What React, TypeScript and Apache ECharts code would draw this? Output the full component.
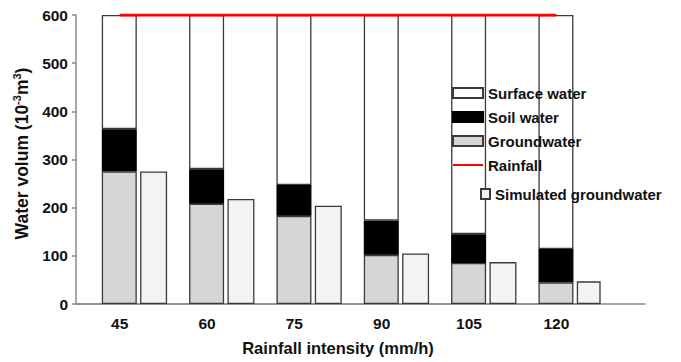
import React, { useEffect, useRef } from "react";
import * as echarts from "echarts";

const categories = ["45", "60", "75", "90", "105", "120"];
const groundwater = [275, 208, 183, 102, 85, 45];
const soilWater = [88, 72, 64, 71, 60, 69];
const surfaceWater = [237, 320, 353, 427, 455, 486];
const simulatedGroundwater = [275, 218, 204, 105, 87, 47];
const rainfall = [600, 600, 600, 600, 600, 600];
const yTicks = [0, 100, 200, 300, 400, 500, 600];

const FONT = "'Liberation Sans', Arial, sans-serif";

export default function App() {
  const ref = useRef<HTMLDivElement>(null);
  useEffect(() => {
    if (!ref.current) return;
    const chart = echarts.init(ref.current, undefined, { renderer: "svg" });
    const gap = 0.095;
    const border = "#3a3a3a";
    const axisColor = "#8a8a8a";
    const legendText = { fontSize: 15, fontWeight: "bold", fontFamily: FONT, color: "#111", lineHeight: 16 };
    chart.setOption({
      animation: false,
      backgroundColor: "#fff",
      grid: [
        { left: 76, right: 81, top: 15, bottom: 58 },
        { left: 76, right: 36, top: 15, bottom: 58 },
      ],
      xAxis: [
        {
          type: "category",
          gridIndex: 0,
          data: categories,
          boundaryGap: true,
          axisTick: { show: false },
          axisLine: { show: true, lineStyle: { color: axisColor, width: 1.5 } },
          axisLabel: { margin: 11, color: "#111", fontWeight: "bold", fontSize: 15.5, fontFamily: FONT },
        },
        {
          type: "value",
          gridIndex: 1,
          min: 0,
          max: 1,
          axisTick: { show: false },
          axisLabel: { show: false },
          splitLine: { show: false },
          axisLine: { show: true, lineStyle: { color: axisColor, width: 1.5 } },
        },
      ],
      yAxis: [
        {
          type: "value",
          gridIndex: 0,
          min: yTicks[0],
          max: yTicks[yTicks.length - 1],
          interval: 100,
          splitLine: { show: false },
          axisLine: { show: true, lineStyle: { color: axisColor, width: 1.5 } },
          axisTick: { show: true, length: 4, lineStyle: { color: axisColor, width: 1.5 } },
          axisLabel: { margin: 8, color: "#111", fontWeight: "bold", fontSize: 15.5, fontFamily: FONT },
          name: "{a|Water volum (10}{s|-3}{a|m}{s|3}{a|)}",
          nameLocation: "middle",
          nameRotate: 90,
          nameGap: 40,
          nameTextStyle: {
            padding: [0, 0, 0, 12],
            rich: {
              a: { fontSize: 17.5, fontWeight: "bold", fontFamily: FONT, color: "#111", lineHeight: 21 },
              s: { fontSize: 11, fontWeight: "bold", fontFamily: FONT, color: "#111", lineHeight: 11, verticalAlign: "top" },
            },
          },
        },
        { type: "value", gridIndex: 1, show: false, min: 0, max: 1 },
      ],
      legend: [
        {
          orient: "vertical",
          left: 452,
          top: 85,
          itemWidth: 30,
          itemHeight: 10,
          itemGap: 8,
          padding: 0,
          textStyle: legendText,
          data: [
            { name: "Surface water", icon: "rect" },
            { name: "Soil water", icon: "rect" },
            { name: "Groundwater", icon: "rect" },
            { name: "Rainfall", itemStyle: { opacity: 0 } },
          ],
        },
        {
          orient: "vertical",
          left: 480,
          top: 186,
          itemWidth: 9,
          itemHeight: 10,
          padding: 0,
          textStyle: legendText,
          data: [{ name: "Simulated groundwater", icon: "rect" }],
        },
      ],
      graphic: [
        {
          type: "text",
          x: 338,
          y: 348,
          style: {
            text: "Rainfall intensity (mm/h)",
            font: `bold 16.5px ${FONT}`,
            fill: "#111",
            textAlign: "center",
            textVerticalAlign: "middle",
          },
        },
      ],
      series: [
        {
          name: "_spacer",
          type: "bar",
          stack: "spacer",
          barWidth: 27,
          barGap: gap,
          data: [],
          itemStyle: { color: "transparent" },
          silent: true,
        },
        {
          name: "Groundwater",
          type: "bar",
          stack: "main",
          barWidth: 35,
          barGap: gap,
          data: groundwater,
          itemStyle: { color: "#d6d6d6", borderColor: border, borderWidth: 1.3 },
        },
        {
          name: "Soil water",
          type: "bar",
          stack: "main",
          barWidth: 35,
          barGap: gap,
          data: soilWater,
          itemStyle: { color: "#000", borderColor: "#000", borderWidth: 1.3 },
        },
        {
          name: "Surface water",
          type: "bar",
          stack: "main",
          barWidth: 35,
          barGap: gap,
          data: surfaceWater,
          itemStyle: { color: "#fff", borderColor: border, borderWidth: 1.3 },
        },
        {
          name: "Simulated groundwater",
          type: "bar",
          stack: "sim",
          barWidth: 27,
          barGap: gap,
          data: simulatedGroundwater,
          itemStyle: { color: "#f3f3f3", borderColor: border, borderWidth: 1.3 },
        },
        {
          name: "Rainfall",
          type: "line",
          data: rainfall,
          symbol: "none",
          z: 5,
          lineStyle: { color: "#ff0000", width: 3 },
          itemStyle: { color: "#ff0000", opacity: 0 },
        },
      ],
    });
    return () => chart.dispose();
  }, []);
  return <div ref={ref} style={{ width: 681, height: 362, position: "absolute", left: 0, top: 0 }} />;
}
